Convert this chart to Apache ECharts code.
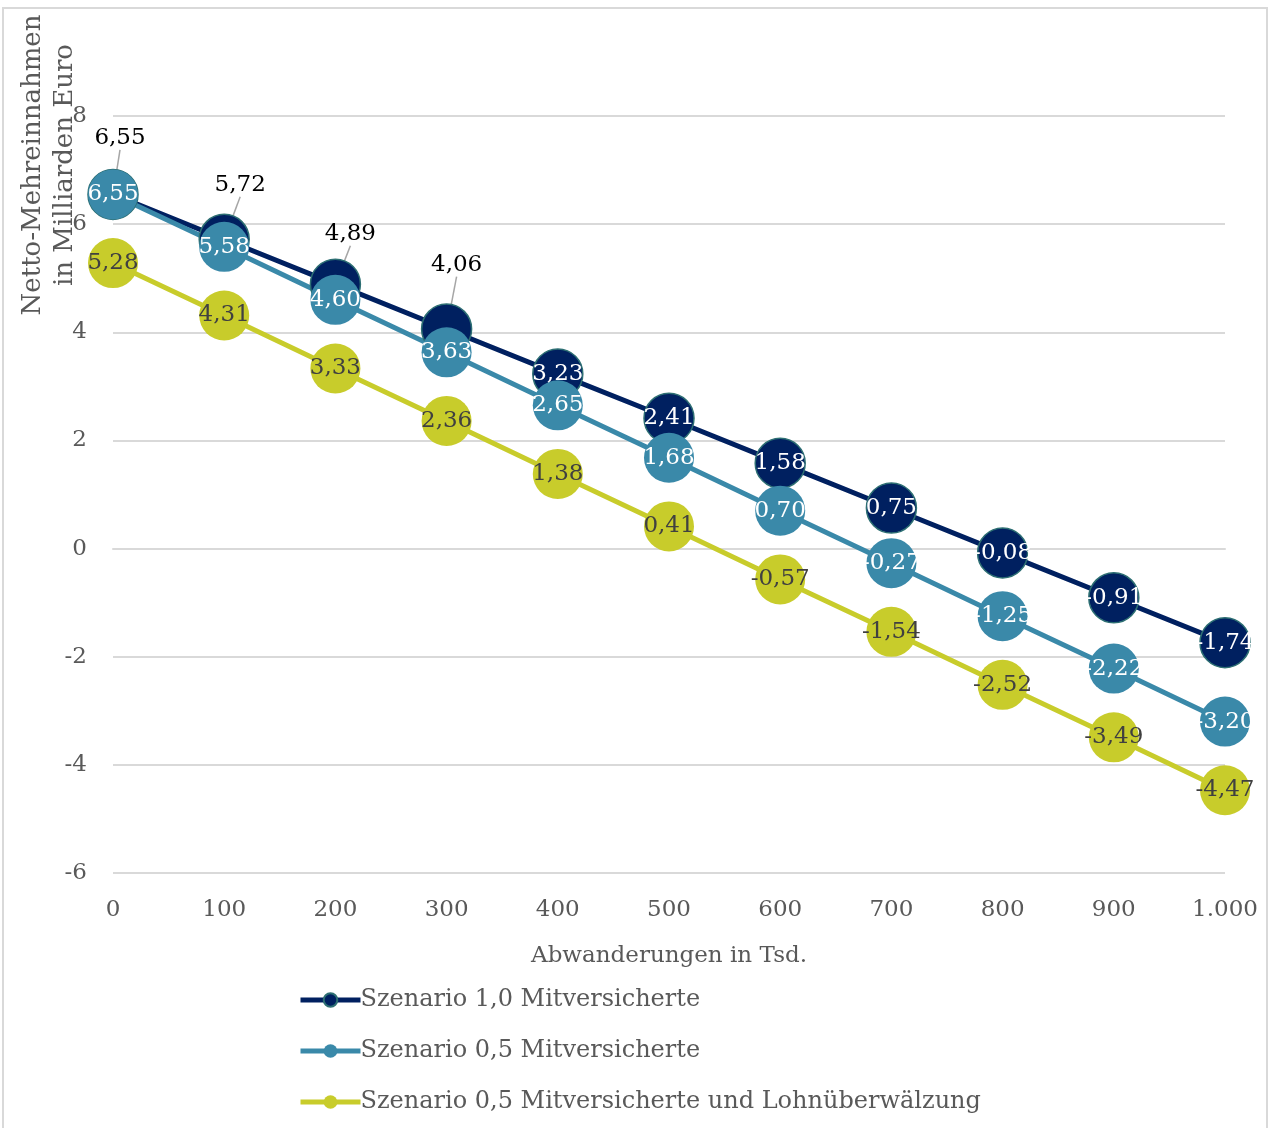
<!DOCTYPE html>
<html><head><meta charset="utf-8">
<script src="https://cdn.jsdelivr.net/npm/echarts@6/dist/echarts.min.js"></script>
<style>html,body{margin:0;padding:0;background:#fff}#c{width:1274px;height:1128px}</style>
</head><body><div id="c"></div>
<script>
const categories = ['0','100','200','300','400','500','600','700','800','900','1.000'];
const seriesNames = ['Szenario 1,0 Mitversicherte','Szenario 0,5 Mitversicherte','Szenario 0,5 Mitversicherte und Lohnüberwälzung'];
const s1 = [6.55,5.72,4.89,4.06,3.23,2.41,1.58,0.75,-0.08,-0.91,-1.74];
const s2 = [6.55,5.58,4.60,3.63,2.65,1.68,0.70,-0.27,-1.25,-2.22,-3.20];
const s3 = [5.28,4.31,3.33,2.36,1.38,0.41,-0.57,-1.54,-2.52,-3.49,-4.47];
const yTicks = {min:-6, max:8, interval:2};
const xName = 'Abwanderungen in Tsd.';
const yName = 'Netto-Mehreinnahmen\nin Milliarden Euro';
// label displacements for the first S1 points (covered by S2)
const s1Moved = {0:[7,-56],1:[16,-54],2:[15,-50],3:[10,-64]};

const FONT = 'DejaVu Serif';
const fmt = v => v.toFixed(2).replace('.',',');
const chart = echarts.init(document.getElementById('c'));

function mk(name, data, color, labelColor, border, extra){
  return Object.assign({
    name, type:'line', data, symbol:'circle', symbolSize:50,
    lineStyle:{color, width:5},
    itemStyle:{color, borderColor:border||color, borderWidth:border?1.5:0},
    label:{show:true, position:'inside', color:labelColor, fontFamily:FONT, fontSize:23,
      formatter:p=>fmt(p.value)},
    emphasis:{disabled:true}, animation:false
  }, extra||{});
}

const s1Data = s1.map((v,i)=> s1Moved[i] ? {value:v, label:{color:'#000'}, labelLine:{show:true}} : v);

chart.setOption({
  animation:false,
  graphic:[
    {type:'rect', shape:{x:3,y:8,width:1264,height:1140}, style:{fill:'none',stroke:'#d9d9d9',lineWidth:2}, silent:true},
    {type:'text', x:49, y:165, rotation:Math.PI/2, style:{text:yName, fill:'#595959', font:'26px "DejaVu Serif"', textAlign:'center', textVerticalAlign:'middle', lineHeight:32}}
  ],
  grid:{left:113, right:49, top:116, bottom:255, containLabel:false},
  legend:{orient:'vertical', left:293, top:983, itemGap:27, itemWidth:60, itemHeight:17,
    lineStyle:{width:5},
    textStyle:{fontFamily:FONT, fontSize:24, color:'#595959', padding:[0,0,0,-5]}, data:seriesNames},
  xAxis:{type:'category', data:categories, boundaryGap:false,
    name:xName, nameLocation:'middle', nameGap:72,
    nameTextStyle:{fontFamily:FONT, fontSize:23, color:'#595959'},
    axisLine:{show:true, lineStyle:{color:'#d9d9d9', width:2}}, axisTick:{show:false},
    axisLabel:{fontFamily:FONT, fontSize:23, color:'#595959', margin:26}},
  yAxis:{type:'value', min:yTicks.min, max:yTicks.max, interval:yTicks.interval,
    axisLine:{show:false}, axisTick:{show:false},
    splitLine:{lineStyle:{color:'#d9d9d9', width:2}},
    axisLabel:{fontFamily:FONT, fontSize:23, color:'#595959', margin:26}},
  series:[
    mk(seriesNames[0], s1Data, '#002060', '#fff', '#2d6f73', {
      labelLine:{show:false, lineStyle:{color:'#a6a6a6', width:1.5}},
      labelLayout:p=> s1Moved[p.dataIndex] ? {dx:s1Moved[p.dataIndex][0], dy:s1Moved[p.dataIndex][1]} : {}
    }),
    mk(seriesNames[1], s2, '#3a89a9', '#fff'),
    mk(seriesNames[2], s3, '#c8cc2b', '#404040')
  ]
});
</script></body></html>
